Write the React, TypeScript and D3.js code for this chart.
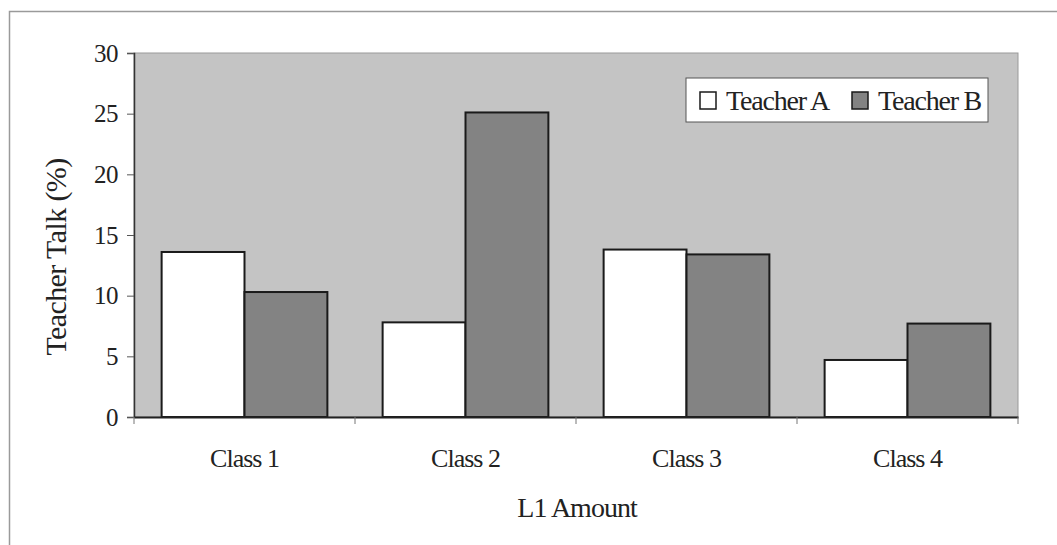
import { useEffect, useRef } from 'react';
import * as d3 from 'd3';

const categories = ['Class 1', 'Class 2', 'Class 3', 'Class 4'];
const seriesNames = ['Teacher A', 'Teacher B'];
const teacherA = [13.6, 7.8, 13.8, 4.7];
const teacherB = [10.3, 25.1, 13.4, 7.7];
const yTicks = [0, 5, 10, 15, 20, 25, 30];

const W = 1057;
const H = 545;
const FONT = '"Liberation Serif", "Times New Roman", serif';

export default function App() {
  const svgRef = useRef<SVGSVGElement>(null);

  useEffect(() => {
    if (!svgRef.current) return;
    const svg = d3.select(svgRef.current);
    svg.selectAll('*').remove();

    const plot = { left: 134, top: 53, right: 1018, bottom: 417 };

    // outer chart frame
    svg.append('rect')
      .attr('x', 9.5).attr('y', 11.5)
      .attr('width', W + 20).attr('height', H + 20)
      .attr('fill', '#fff').attr('stroke', '#9a9a9a').attr('stroke-width', 1.5);

    const x = d3.scaleBand<string>()
      .domain(categories)
      .range([plot.left, plot.right]);
    const y = d3.scaleLinear().domain([0, 30]).range([plot.bottom, plot.top]);

    const inner = d3.scaleBand<string>()
      .domain(seriesNames)
      .range([0, x.bandwidth() * 0.75]);
    const offset = x.bandwidth() * 0.125;

    // plot area
    svg.append('rect')
      .attr('x', plot.left).attr('y', plot.top)
      .attr('width', plot.right - plot.left).attr('height', plot.bottom - plot.top)
      .attr('fill', '#c4c4c4').attr('stroke', '#9a9a9a').attr('stroke-width', 1);

    const data = [teacherA, teacherB];
    const fills = ['#ffffff', '#838383'];

    seriesNames.forEach((s, si) => {
      svg.append('g').selectAll('rect')
        .data(categories)
        .enter().append('rect')
        .attr('x', c => x(c)! + offset + inner(s)!)
        .attr('y', (_c, i) => y(data[si][i]))
        .attr('width', inner.bandwidth())
        .attr('height', (_c, i) => y(0) - y(data[si][i]))
        .attr('fill', fills[si])
        .attr('stroke', '#1a1a1a')
        .attr('stroke-width', 2);
    });

    // y axis
    const yAxis = svg.append('g')
      .attr('transform', `translate(${plot.left},0)`)
      .call(d3.axisLeft(y).tickValues(yTicks).tickSize(7).tickPadding(9));
    yAxis.select('.domain').attr('stroke', '#333').attr('stroke-width', 1.5);
    yAxis.selectAll('.tick line').attr('stroke', '#555');
    yAxis.selectAll('text')
      .attr('font-family', FONT).attr('font-size', 25).attr('fill', '#222')
      .attr('letter-spacing', -0.5);

    // x axis
    const xAxis = svg.append('g')
      .attr('transform', `translate(0,${plot.bottom})`)
      .call(d3.axisBottom(x).tickSize(0).tickPadding(0));
    xAxis.select('.domain').attr('stroke', '#222').attr('stroke-width', 2);
    xAxis.selectAll('text')
      .attr('dy', null).attr('y', 50)
      .attr('font-family', FONT).attr('font-size', 26).attr('fill', '#222')
      .attr('letter-spacing', -1);
    xAxis.selectAll('.boundary')
      .data(d3.range(categories.length + 1))
      .enter().append('line')
      .attr('class', 'boundary')
      .attr('x1', i => plot.left + i * x.step())
      .attr('x2', i => plot.left + i * x.step())
      .attr('y1', 0).attr('y2', 7)
      .attr('stroke', '#777');

    // axis titles
    svg.append('text')
      .attr('transform', `translate(66,257) rotate(-90)`)
      .attr('text-anchor', 'middle')
      .attr('font-family', FONT).attr('font-size', 30).attr('fill', '#222')
      .attr('letter-spacing', -0.6)
      .text('Teacher Talk (%)');

    svg.append('text')
      .attr('x', 577).attr('y', 517)
      .attr('text-anchor', 'middle')
      .attr('font-family', FONT).attr('font-size', 28).attr('fill', '#222')
      .attr('letter-spacing', -1)
      .text('L1 Amount');

    // legend
    const lg = svg.append('g').attr('transform', 'translate(686,78)');
    lg.append('rect')
      .attr('width', 302).attr('height', 44)
      .attr('fill', '#fff').attr('stroke', '#555').attr('stroke-width', 1);
    const items = [
      { name: seriesNames[0], fill: fills[0], x: 14 },
      { name: seriesNames[1], fill: fills[1], x: 166 },
    ];
    items.forEach(it => {
      lg.append('rect')
        .attr('x', it.x).attr('y', 14).attr('width', 16).attr('height', 17)
        .attr('fill', it.fill).attr('stroke', '#1a1a1a').attr('stroke-width', 1.5);
      lg.append('text')
        .attr('x', it.x + 26).attr('y', 32)
        .attr('font-family', FONT).attr('font-size', 28).attr('fill', '#222')
        .attr('letter-spacing', -1.2)
        .text(it.name);
    });
  }, []);

  return (
    <svg ref={svgRef} width={W} height={H}
      style={{ position: 'fixed', left: 0, top: 0, background: '#fff' }} />
  );
}
